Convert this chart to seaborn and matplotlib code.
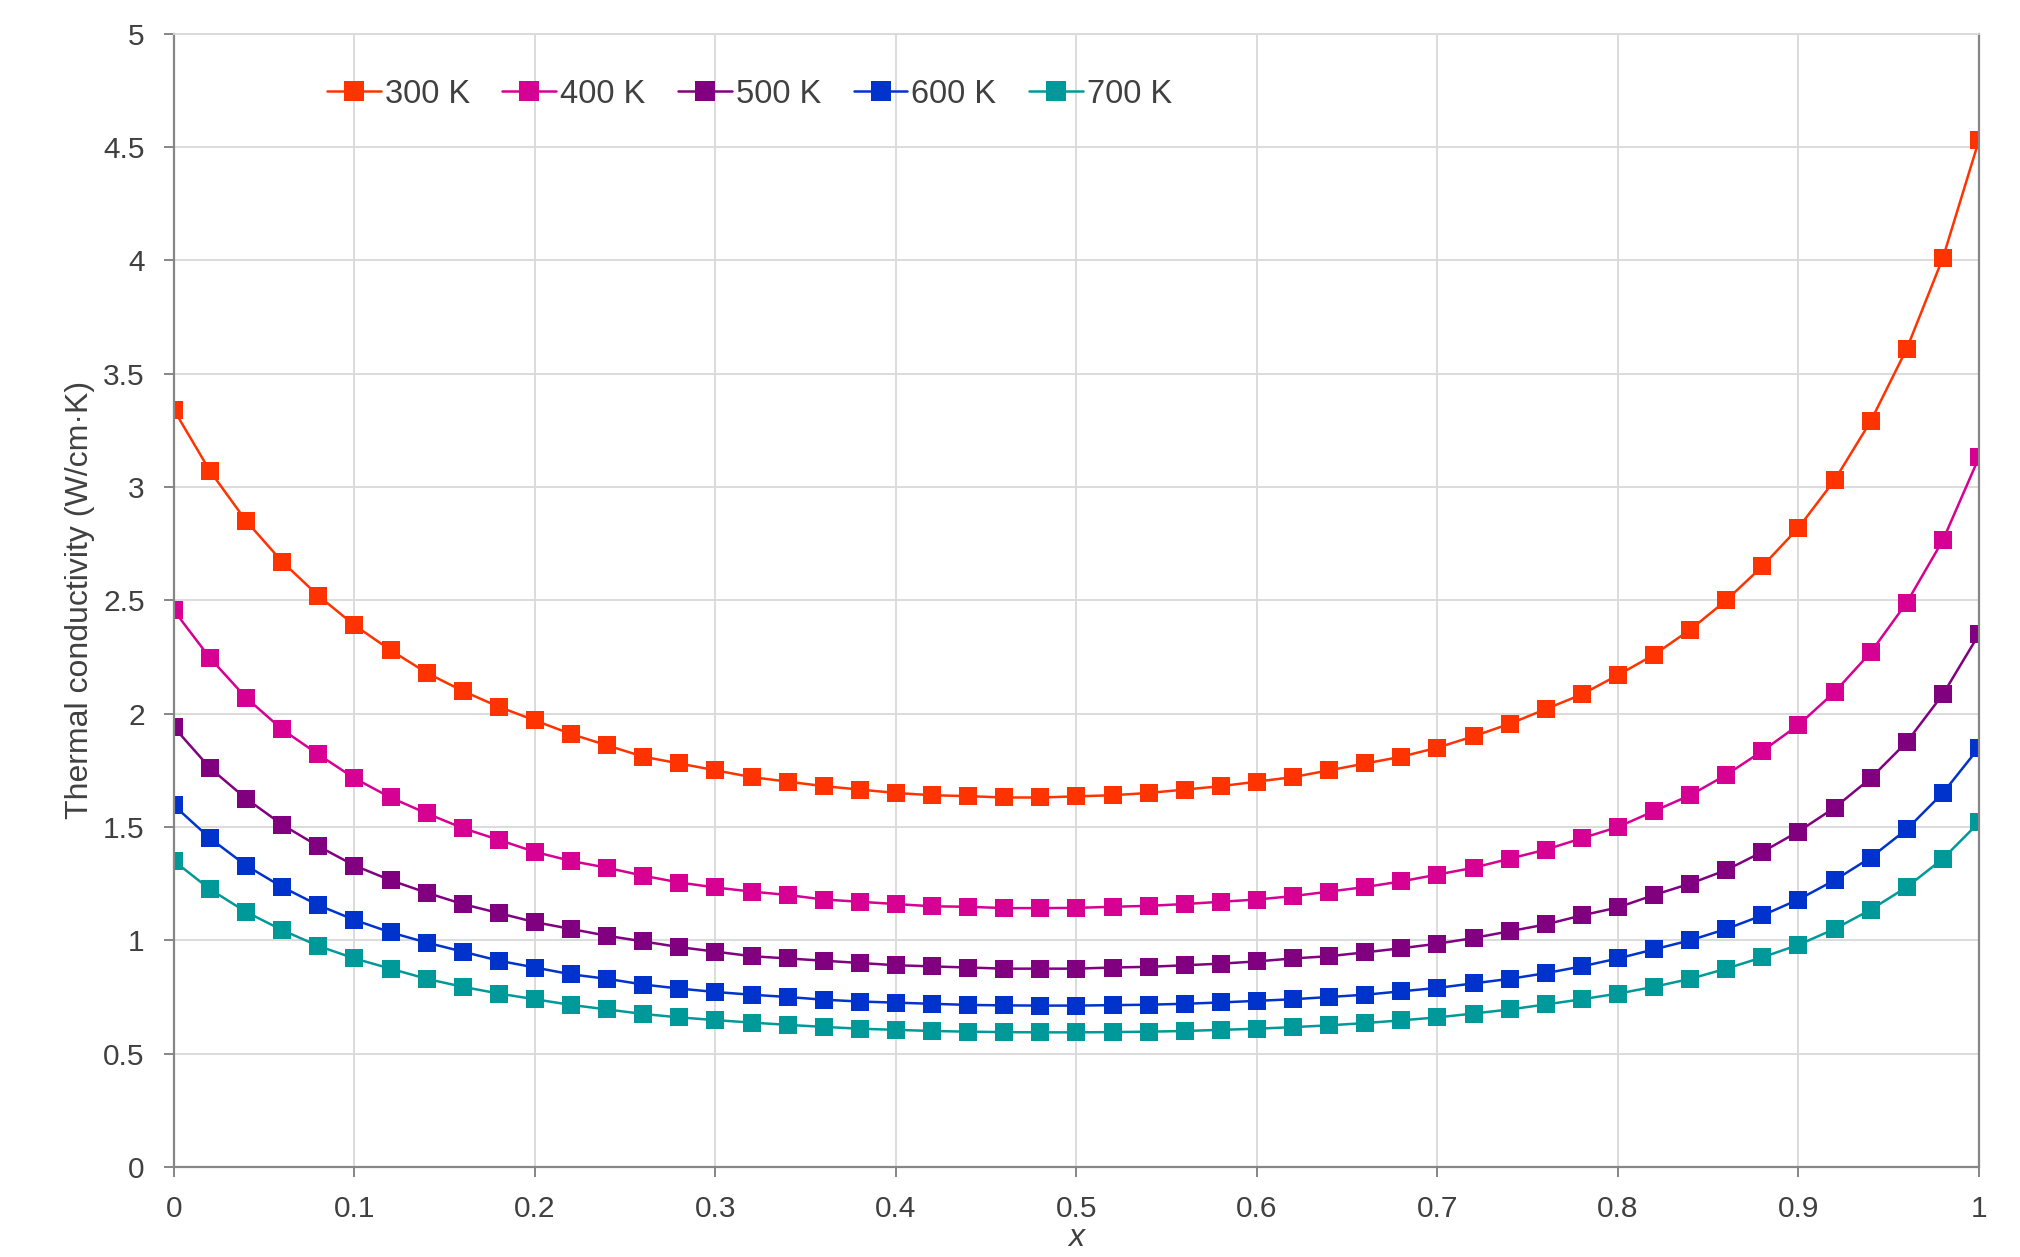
import numpy as np
import pandas as pd
import matplotlib
matplotlib.use("Agg")
import matplotlib.pyplot as plt
import seaborn as sns

# Composition grid (x from 0 to 1, step 0.02)
x_vals = [round(i * 0.02, 2) for i in range(51)]

k_300 = [3.34, 3.07, 2.85, 2.67, 2.52, 2.39, 2.28, 2.18, 2.10, 2.03,
         1.97, 1.91, 1.86, 1.81, 1.78, 1.75, 1.72, 1.70, 1.68, 1.665,
         1.65, 1.64, 1.636, 1.63, 1.63, 1.635, 1.64, 1.65, 1.665, 1.68,
         1.70, 1.72, 1.75, 1.78, 1.81, 1.85, 1.90, 1.955, 2.02, 2.085,
         2.17, 2.26, 2.37, 2.50, 2.65, 2.82, 3.03, 3.29, 3.61, 4.01,
         4.53]
k_400 = [2.455, 2.245, 2.07, 1.93, 1.82, 1.715, 1.63, 1.56, 1.495, 1.443,
         1.39, 1.35, 1.32, 1.285, 1.255, 1.233, 1.215, 1.20, 1.18, 1.17,
         1.16, 1.15, 1.148, 1.142, 1.142, 1.143, 1.148, 1.152, 1.16, 1.17,
         1.18, 1.195, 1.215, 1.235, 1.26, 1.29, 1.32, 1.36, 1.40, 1.45,
         1.50, 1.57, 1.64, 1.73, 1.835, 1.95, 2.095, 2.27, 2.49, 2.765,
         3.13]
k_500 = [1.94, 1.76, 1.625, 1.51, 1.415, 1.33, 1.265, 1.21, 1.16, 1.12,
         1.08, 1.05, 1.02, 0.995, 0.97, 0.95, 0.93, 0.92, 0.91, 0.90,
         0.89, 0.885, 0.88, 0.875, 0.875, 0.875, 0.88, 0.883, 0.89, 0.897,
         0.907, 0.92, 0.93, 0.947, 0.965, 0.985, 1.01, 1.04, 1.07, 1.11,
         1.145, 1.20, 1.25, 1.31, 1.39, 1.48, 1.585, 1.715, 1.875, 2.085,
         2.35]
k_600 = [1.595, 1.45, 1.33, 1.235, 1.155, 1.09, 1.035, 0.99, 0.95, 0.91,
         0.88, 0.85, 0.83, 0.805, 0.787, 0.772, 0.76, 0.75, 0.738, 0.73,
         0.725, 0.72, 0.715, 0.713, 0.712, 0.712, 0.714, 0.716, 0.72, 0.726,
         0.733, 0.74, 0.75, 0.76, 0.775, 0.79, 0.81, 0.83, 0.855, 0.885,
         0.92, 0.96, 1.00, 1.05, 1.11, 1.18, 1.265, 1.365, 1.49, 1.65,
         1.85]
k_700 = [1.35, 1.225, 1.125, 1.045, 0.975, 0.92, 0.875, 0.83, 0.795, 0.765,
         0.74, 0.715, 0.695, 0.675, 0.66, 0.648, 0.637, 0.627, 0.618, 0.61,
         0.605, 0.60, 0.597, 0.595, 0.594, 0.594, 0.595, 0.597, 0.60, 0.605,
         0.61, 0.617, 0.625, 0.635, 0.647, 0.66, 0.677, 0.695, 0.717, 0.74,
         0.765, 0.795, 0.83, 0.875, 0.925, 0.98, 1.05, 1.135, 1.235, 1.36,
         1.52]

series_names = ["300 K", "400 K", "500 K", "600 K", "700 K"]
series_vals = [k_300, k_400, k_500, k_600, k_700]
colors = ["#FF3300", "#D60093", "#800080", "#0033CC", "#009999"]

df = pd.concat(
    [pd.DataFrame({"x": x_vals, "k": v, "T": name}) for name, v in zip(series_names, series_vals)],
    ignore_index=True,
)

sns.set_theme(style="whitegrid")
plt.rcParams["font.family"] = ["Liberation Sans", "DejaVu Sans"]
text_color = "#404040"

fig = plt.figure(figsize=(20.2, 12.57), dpi=100)
ax = fig.add_axes([0.0861, 0.0716, 0.8936, 0.9017])

sns.lineplot(data=df, x="x", y="k", hue="T", palette=colors, marker="s",
             markersize=13.5, markeredgewidth=0, linewidth=1.8, ax=ax,
             hue_order=series_names)

ax.set_xlim(0, 1)
ax.set_ylim(0, 5)
ax.set_xticks(np.arange(0, 1.01, 0.1))
ax.set_xticklabels(["0", "0.1", "0.2", "0.3", "0.4", "0.5", "0.6", "0.7", "0.8", "0.9", "1"])
ax.set_yticks(np.arange(0, 5.01, 0.5))
ax.set_yticklabels(["0", "0.5", "1", "1.5", "2", "2.5", "3", "3.5", "4", "4.5", "5"])
ax.grid(True, color="#D9D9D9", linewidth=1.3)
ax.set_facecolor("white")

for side in ["left", "bottom", "right"]:
    ax.spines[side].set_color("#868686")
    ax.spines[side].set_linewidth(1.6)
ax.spines["top"].set_color("#D9D9D9")
ax.spines["top"].set_linewidth(1.3)

ax.tick_params(axis="both", which="major", direction="out", length=7, width=1.4,
               color="#868686", labelsize=21.5, labelcolor=text_color)
ax.tick_params(axis="x", pad=13)
ax.tick_params(axis="y", pad=14)
ax.tick_params(left=True, bottom=True)

ax.set_ylabel("Thermal conductivity (W/cm·K)", fontsize=23, color=text_color, labelpad=6)
ax.set_xlabel("x", fontsize=23, color=text_color, style="italic", labelpad=0)

leg = ax.legend(loc="upper left", bbox_to_anchor=(0.0684, 0.986), ncol=5, frameon=False,
                fontsize=23.5, handlelength=1.65, handletextpad=0.12, columnspacing=1.0,
                labelcolor=text_color)
for h in leg.legend_handles:
    h.set_markersize(14)

fig.savefig("out.png", dpi=100)
